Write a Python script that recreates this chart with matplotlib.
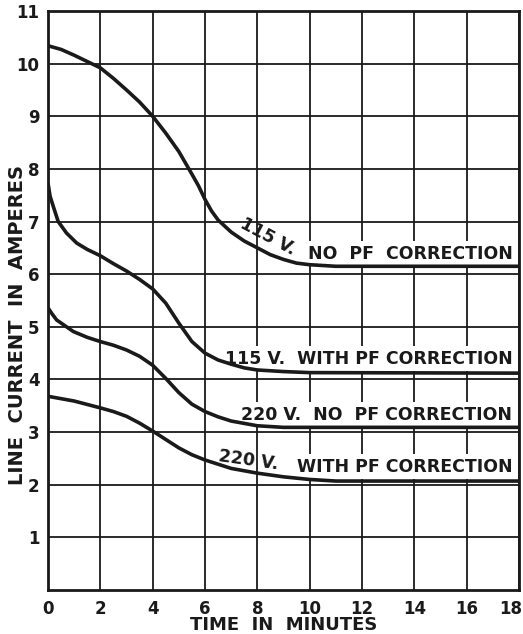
import matplotlib.pyplot as plt
import matplotlib.transforms as mtransforms

# curves (time in minutes, line current in amperes)
t_115_nopf = [0, 0.5, 1, 1.5, 2, 2.5, 3, 3.5, 4, 4.5, 5, 5.5, 5.75, 6, 6.25, 6.5, 7, 7.5, 8, 8.5, 9, 9.5, 10, 11, 18]
i_115_nopf = [10.34, 10.27, 10.16, 10.04, 9.92, 9.72, 9.5, 9.27, 9.0, 8.68, 8.33, 7.9, 7.68, 7.42,
              7.2, 7.03, 6.8, 6.63, 6.5, 6.37, 6.28, 6.21, 6.18, 6.15, 6.15]

t_115_pf = [0, 0.08, 0.2, 0.39, 0.71, 1.1, 1.5, 2, 2.5, 3, 3.5, 4, 4.5, 5, 5.5, 6, 6.5, 7, 7.5, 8, 9, 10, 18]
i_115_pf = [7.73, 7.48, 7.29, 7.0, 6.78, 6.59, 6.47, 6.35, 6.2, 6.06, 5.9, 5.72, 5.45, 5.07,
            4.72, 4.5, 4.37, 4.29, 4.22, 4.18, 4.15, 4.13, 4.12]

t_220_nopf = [0, 0.15, 0.33, 0.97, 1.5, 2, 2.5, 3, 3.5, 4, 4.5, 5, 5.5, 6, 6.5, 7, 8, 9, 18]
i_220_nopf = [5.36, 5.25, 5.13, 4.91, 4.8, 4.72, 4.65, 4.56, 4.44, 4.27, 4.02, 3.75, 3.53, 3.39,
              3.29, 3.21, 3.12, 3.09, 3.09]

t_220_pf = [0, 1, 2, 2.5, 3, 3.5, 4, 4.5, 5, 5.5, 6, 7, 8, 9, 10, 11, 18]
i_220_pf = [3.68, 3.59, 3.46, 3.39, 3.3, 3.17, 3.02, 2.86, 2.70, 2.57, 2.47, 2.31, 2.22, 2.15, 2.10, 2.07, 2.07]

x_ticks = list(range(0, 19, 2))
y_ticks = list(range(1, 12))

plt.rcParams['font.family'] = ['DejaVu Sans']
ink = '#1a1a1a'

fig = plt.figure(figsize=(5.23, 6.34), dpi=100)
ax = fig.add_axes([48 / 523, 44 / 634, 471 / 523, 579 / 634])

for t, i in [(t_115_nopf, i_115_nopf), (t_115_pf, i_115_pf),
             (t_220_nopf, i_220_nopf), (t_220_pf, i_220_pf)]:
    ax.plot(t, i, color=ink, lw=2.6, solid_capstyle='butt', solid_joinstyle='round', zorder=3)

ax.set_xlim(0, 18)
ax.set_ylim(0, 11)
ax.set_xticks(x_ticks)
ax.set_yticks(y_ticks)
ax.grid(True, color=ink, lw=1.3)
ax.set_axisbelow(True)
for s in ax.spines.values():
    s.set_linewidth(2.0)
    s.set_color(ink)
ax.tick_params(length=0, labelsize=12, colors=ink)
ax.tick_params(axis='x', pad=7)
ax.tick_params(axis='y', pad=6)
for lab in ax.get_xticklabels() + ax.get_yticklabels():
    lab.set_fontweight('bold')
# last x label pulled in so it stays on the page
last = ax.get_xticklabels()[-1]
last.set_ha('right')
last.set_transform(last.get_transform() + mtransforms.ScaledTranslation(3 / 100, 0, fig.dpi_scale_trans))

ax.set_xlabel('TIME  IN  MINUTES', fontsize=13, fontweight='bold', color=ink, va='center')
ax.xaxis.set_label_coords(0.5, -0.0605)
ax.set_ylabel('LINE  CURRENT  IN  AMPERES', fontsize=14, fontweight='bold', color=ink, va='center')
ax.yaxis.set_label_coords(-0.064, 0.458)

box = dict(facecolor='white', edgecolor='none', pad=2.5)
tkw = dict(fontsize=12.5, fontweight='bold', color=ink, zorder=2)

ax.text(8.4, 6.71, '115 V.', rotation=-28, ha='center', va='center', **tkw)
ax.text(17.75, 6.39, 'NO  PF  CORRECTION', ha='right', va='center', bbox=box, **tkw)
ax.text(17.75, 4.39, '115 V.  WITH PF CORRECTION', ha='right', va='center', bbox=box, **tkw)
ax.text(17.75, 3.33, '220 V.  NO  PF CORRECTION', ha='right', va='center', bbox=box, **tkw)
ax.text(17.75, 2.34, 'WITH PF CORRECTION', ha='right', va='center', bbox=box, **tkw)
ax.text(7.65, 2.47, '220 V.', rotation=-8, ha='center', va='center', **tkw)

fig.savefig('out.png', dpi=100)
